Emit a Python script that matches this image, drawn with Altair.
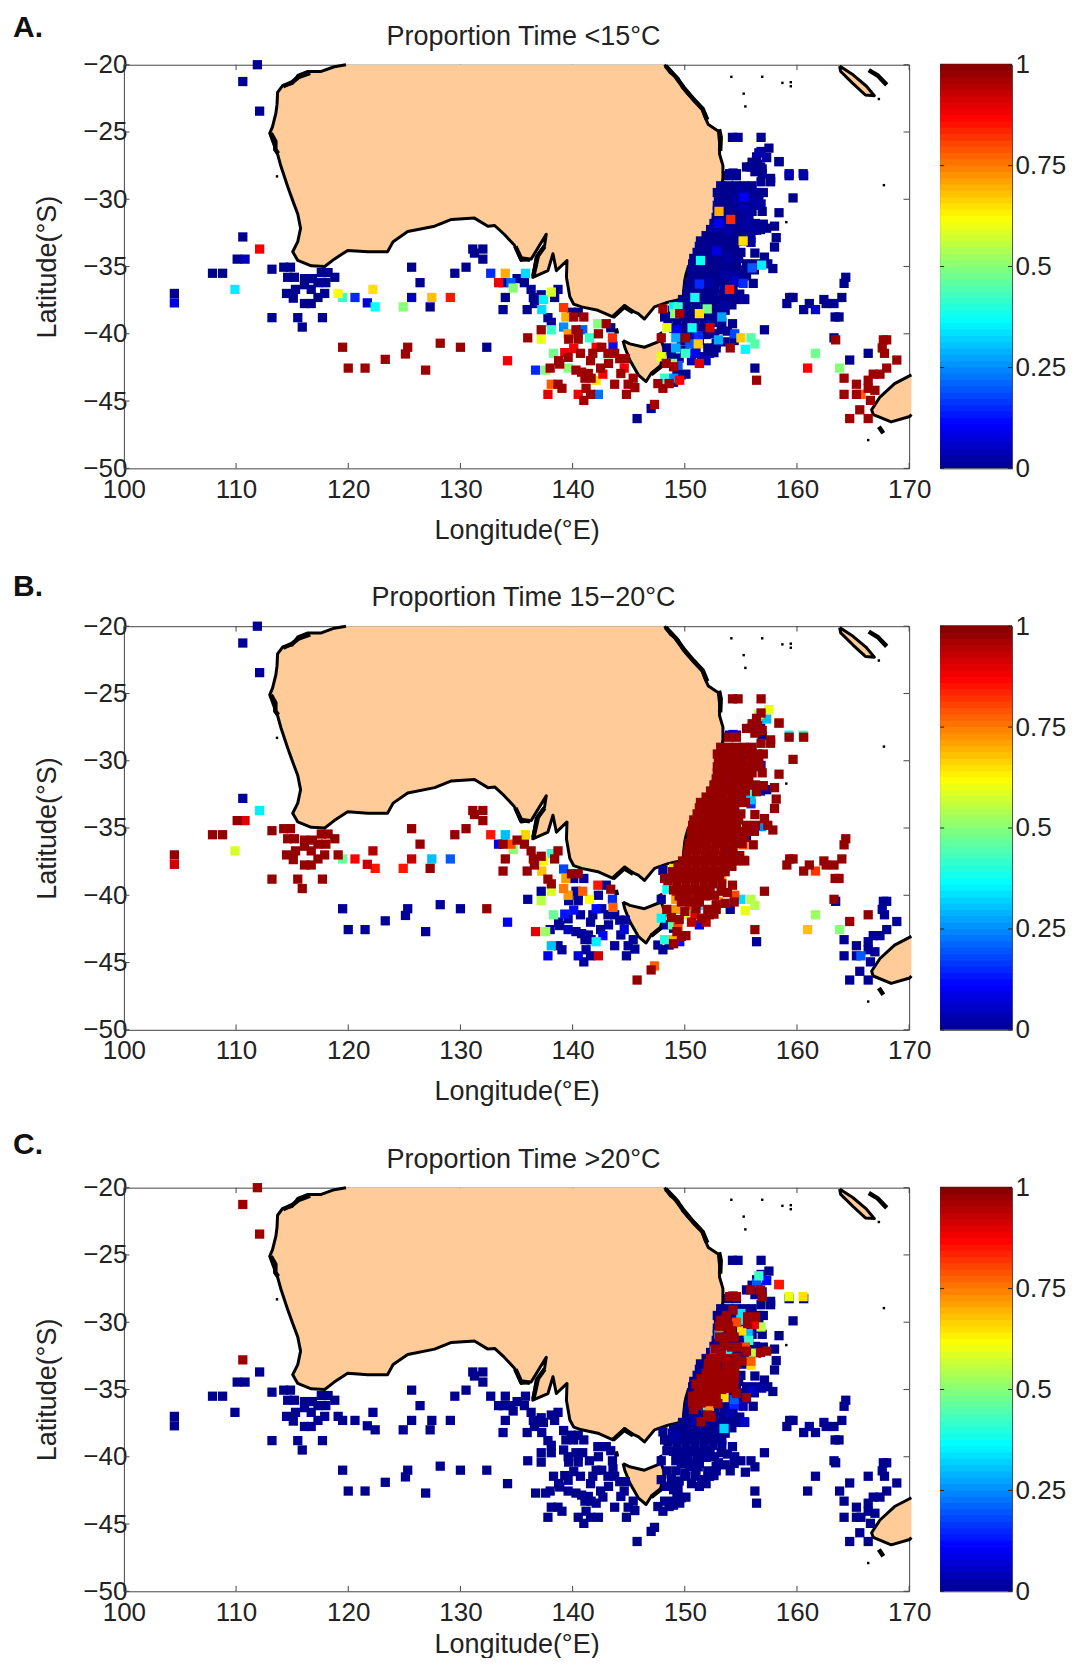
import altair as alt
import pandas as pd

FONT = "Liberation Sans"
LAND = "#FFCC99"
JET_DOMAIN = [0, 0.11, 0.365, 0.62, 0.87, 1]
JET_RANGE = ["#00008F", "#0000FF", "#00FFFF", "#FFFF00", "#FF0000", "#800000"]
XTICKS = [100, 110, 120, 130, 140, 150, 160, 170]
YTICKS = [-20, -25, -30, -35, -40, -45, -50]
CBTICKS = [0, 0.25, 0.5, 0.75, 1]

# ---------- coastlines (lon, lat) ----------
AUSTRALIA = [(148.2,-20),(148.7,-20.6),(149.4,-21),(149.8,-21.7),(150.3,-22.2),(150.9,-22.6),(151.5,-23.2),(151.8,-23.9),
 (152.1,-24.45),(153,-24.95),(153.1,-25.8),(153.1,-26.65),(153.4,-27.5),(153.4,-28.4),(153.3,-29.1),(153.1,-29.85),(152.8,-31),
 (152.5,-31.85),(151.9,-32.7),(151.2,-33.55),(150.8,-34.3),(150.3,-35.05),(150.1,-35.6),(150,-36),(149.9,-36.8),(149.85,-37.4),
 (148.5,-37.65),(147.3,-38),(146.4,-38.9),(145.85,-38.5),(145.3,-38.3),(144.65,-37.9),(144.1,-38.4),(143.6,-38.75),(142.25,-38.25),
 (140.8,-38),(140.1,-37.8),(139.75,-37.25),(139.45,-35.8),(139.5,-34.55),(138.55,-35.3),(138.25,-34.05),(137.8,-35.3),(136.45,-35.8),
 (136.75,-34.3),(137.5,-33.45),(137.65,-32.6),(136.3,-34.45),(135.4,-34.55),(134.8,-33.4),(133.9,-32.6),(133.05,-31.95),(132.45,-32),
 (131.25,-31.4),(129.2,-31.5),(127.7,-32),(125.3,-32.4),(124,-33.15),(123.5,-33.9),(121.75,-33.9),(119.95,-33.8),(118.75,-34.45),
 (117.9,-35),(116.7,-34.95),(115.5,-34.55),(115.05,-33.9),(115.5,-33.15),(115.75,-32.15),(115.5,-31.1),(115.05,-30.1),(114.6,-29.05),
 (114,-27.55),(113.7,-26.65),(113.4,-26),(113,-25.1),(113.25,-24.6),(113.4,-24.1),(113.55,-23.6),(113.65,-22.95),(113.7,-22.05),
 (114.15,-21.55),(115,-21.4),(115.5,-20.8),(116.4,-20.5),(117.6,-20.5),(118.75,-20.15),(119.8,-20)]
TASMANIA = [(144.5,-40.5),(145.1,-40.75),(146.4,-41),(147.9,-40.5),(148.2,-41.2),(147.9,-42.45),(147,-42.95),(146.55,-43.55),
 (145.85,-43.05),(145.1,-41.95),(144.65,-41),(144.5,-40.5)]
NEW_ZEALAND = [(170.2,-43.05),(168.7,-43.7),(167.4,-44.7),(166.65,-45.65),(166.8,-46),(168.4,-46.55),(170.05,-46.15),(170.2,-46)]
NEW_CALEDONIA = [(163.8,-20.1),(165,-20.75),(166.2,-21.6),(166.9,-22.3),(166.1,-22.25),(165,-21.4),(163.9,-20.5),(163.8,-20.1)]
ROUGH_COAST = {
 "qld": [(148.3,-20.1),(149.2,-20.9),(149.9,-21.7),(150.8,-22.6),(151.6,-23.3),(152,-24.1)],
 "shark": [(113.1,-25.1),(113.5,-25.7),(113.5,-26.3),(113.75,-26.6)],
 "fraser": [(153.05,-24.8),(153.2,-25.4),(153.15,-26.4)],
 "pilbara": [(114.2,-21.6),(115,-21.3),(115.6,-20.9),(116.6,-20.6)],
 "nsw": [(153.3,-29.3),(152.9,-30.6),(152.4,-32),(151.5,-33.2),(150.7,-34.6)],
 "eyre": [(134.9,-33.5),(135.4,-34.4),(136.2,-34.5)],
 "yorke": [(137.5,-33.5),(136.9,-34.2),(136.5,-35.7)],
 "otway": [(143.6,-38.75),(144.6,-38),(145.4,-38.4)],
 "king": [(143.85,-39.6),(143.95,-40.0)],
 "flinders": [(147.75,-39.9),(148.1,-40.4)],
 "tas": [(148.2,-41.4),(147.9,-42.4),(147,-43)],
 "vanuatu": [(166.4,-20.4),(167.2,-20.8),(168,-21.5)],
 "stewart": [(167.3,-46.9),(167.7,-47.4)],
}
ISLETS = [(154.15,-20.9),(156.9,-20.9),(158.7,-21.35),(159.45,-21.3),(159.45,-21.6),(155.25,-22.15),(155.4,-23.1),(167.75,-28.95),
 (159.05,-31.7),(166.35,-47.9),(167.3,-22.55),(113.65,-28.3),(115.6,-20.9)]

# ---------- tag positions ----------
# navy in A, dark red in B, navy in C
COOL_WEST = [(104.5,-37),(107.9,-35.5),(108.8,-35.5),(110.1,-34.45),(113.2,-35.2),(114.25,-35.05),(114.85,-35.05),(114.6,-35.8),(115.2,-35.8),
 (116.1,-35.9),(116.8,-35.9),(117.6,-35.45),(118.2,-35.45),(118.8,-35.8),(118,-36.2),(117.3,-36.2),(116.1,-36.35),(115.3,-36.7),(116.7,-36.7),
 (114.5,-37),(117.9,-37),(117.3,-37.3),(115.1,-37.35),(116.1,-37.75),(116.7,-37.75),(113.2,-38.8),(115.5,-38.8),(117.7,-38.8),(115.9,-39.5),
 (125.65,-35.05),(126.4,-36.2),(127.3,-38),(129.5,-35.5),(130.5,-35.05),(131.1,-33.7),(132,-33.7),(131.25,-34),(132,-34.45),
 (133.8,-36.2),(135.05,-35.9),(135.7,-36.2),(136.3,-36.7),(134,-37.3),(133.8,-38.2),(135.95,-38.2),(136.5,-37.3),(137.2,-37.1),(136.6,-37.75),
 (138.7,-36.7),(138.4,-37.3),(137.8,-38.8),(138.1,-39.15),(139.9,-38.4),(140.5,-38.4),(143.4,-39.55)]
COOL_TOP = [(154.25,-25.4),(154.75,-25.4),(156.8,-25.4),(156.8,-26.45),(156.4,-26.85),(158.4,-27.2),(156,-27.25),(155.5,-27.6),(156.5,-27.4),
 (156.9,-27.75),(156.25,-27.95),(159.3,-28.25),(160.6,-28.25),(153.9,-28.25),(154.6,-28.25),(157.65,-28.45),(156.8,-28.7),(157.65,-28.7),
 (159.65,-29.9),(158.4,-31),(158,-32),(158.15,-32.85),(158,-33.55),(156.25,-34),(157.1,-34.3),(157.4,-34.8),(157.85,-35.15),(155.35,-37.45),(156.1,-36.25)]
ROW_29 = [(153.2,-29),(153.9,-29),(154.6,-29),(155.3,-29),(156,-29)]
ROW_29H = [(152.9,-29.5),(153.6,-29.5),(154.3,-29.5),(155,-29.5),(155.8,-29.5),(156.5,-29.5),(157,-29.5)]
ROW_30 = [(153,-30),(153.8,-30),(154.5,-30),(155.2,-30),(156,-30),(156.6,-30)]
ROW_30H = [(152.9,-30.45),(153.6,-30.45),(154.4,-30.45),(155.1,-30.45),(155.9,-30.45),(156.7,-30.45)]
ROW_31 = [(152.9,-30.9),(153.7,-30.9),(154.5,-30.9),(155.2,-30.9),(156,-30.9),(156.9,-30.9),(152.8,-31.35),(153.5,-31.35),(154.3,-31.35),(155,-31.35),(155.7,-31.35)]
ROW_32 = [(152.6,-31.8),(153.3,-31.8),(154,-31.8),(154.8,-31.8),(155.6,-31.8),(156.3,-31.8),(157,-31.85),(152.3,-32.25),(153.1,-32.25),(153.9,-32.25),(154.6,-32.25),(155.4,-32.25),(156.4,-32.3)]
ROW_33 = [(151.9,-32.7),(152.7,-32.7),(153.4,-32.7),(154.2,-32.7),(155,-32.7),(151.4,-33.1),(152.2,-33.1),(153,-33.1),(153.8,-33.1),(154.6,-33.1),(155.4,-33.1),(151.3,-33.5),(152,-33.5),(152.8,-33.5),(153.6,-33.5),(154.4,-33.5)]
ROW_34 = [(151.1,-33.95),(151.8,-33.95),(152.6,-33.95),(153.4,-33.95),(154.2,-33.95),(155,-33.95),(150.8,-34.4),(151.6,-34.4),(152.4,-34.4),(153.2,-34.4),(154,-34.4),(154.8,-34.4)]
ROW_35 = [(150.7,-34.8),(151.5,-34.8),(152.3,-34.8),(153,-34.8),(153.8,-34.8),(154.6,-34.8),(155.5,-34.8),(156.3,-34.8),(150.6,-35.25),(151.4,-35.25),(152.2,-35.25),(153,-35.25),(153.8,-35.25),(154.6,-35.25),(155.4,-35.25),(156.2,-35.25),(150.6,-35.7),(151.4,-35.7),(152.1,-35.7),(152.9,-35.7),(153.7,-35.7),(154.5,-35.7),(155.3,-35.7)]
ROW_36 = [(150.4,-36.15),(151.2,-36.15),(152,-36.15),(152.8,-36.15),(153.6,-36.15),(154.4,-36.15),(155.1,-36.15),(150.3,-36.6),(151.1,-36.6),(151.9,-36.6),(152.7,-36.6),(153.5,-36.6),(154.3,-36.6)]
ROW_37 = [(150.2,-37.05),(151,-37.05),(151.8,-37.05),(152.6,-37.05),(153.4,-37.05),(154.2,-37.05),(154.9,-37.05),(149.8,-37.45),(150.6,-37.45),(151.4,-37.45),(152.2,-37.45),(153,-37.45),(153.8,-37.45),(154.6,-37.45),(149.4,-37.85),(150.2,-37.85),(151,-37.85),(151.8,-37.85),(152.6,-37.85),(153.4,-37.85),(154.2,-37.85)]
ROW_38 = [(148.9,-38.25),(149.7,-38.25),(150.5,-38.25),(151.3,-38.25),(152.1,-38.25),(152.9,-38.25),(153.6,-38.25),(149.1,-38.7),(149.9,-38.7),(150.7,-38.7),(151.5,-38.7),(152.3,-38.7),(153.1,-38.7)]
ROW_39 = [(149.3,-39.15),(150.1,-39.15),(150.9,-39.15),(151.7,-39.15),(152.5,-39.15),(153.3,-39.15),(154.25,-39.25),(149,-39.6),(149.8,-39.6),(150.6,-39.6),(151.4,-39.6),(152.2,-39.6),(153.25,-39.7),(157.1,-39.7)]
ROW_40 = [(149.5,-40.05),(150.3,-40.05),(151.1,-40.05),(151.9,-40.05),(152.65,-40),(149.7,-40.5),(150.5,-40.5),(151.3,-40.5),(148.4,-41.05),(152.05,-41.05),(152.8,-41.05),(152.2,-41.45),(148.8,-41.65),(156.25,-42.55),(149.7,-43.05),(148.2,-38.75),(148.5,-38.9),(147,-45.55),(145.75,-46.3)]
ROW_41 = [(150,-41.2),(151,-41),(152.6,-41.4),(149.5,-41.8),(151.5,-41.7),(152.8,-40.7),(153.6,-40.6),(153.8,-39.8),(149.3,-42.7),(150.1,-43),(149,-43.6),(154.4,-40.5)]
COOL_FAR_EAST = [(159.35,-37.3),(159.65,-37.3),(159.1,-37.75),(160.6,-38.2),(161.1,-37.75),(162.4,-37.45),(162.6,-37.75),(163.3,-37.75),(164,-37.3),(164.35,-35.8),(164.2,-36.25),(163.4,-38.75),(163.75,-38.75),(163.3,-40.3),(164.7,-41.95),(166.35,-41.45)]

# dark red in A, navy in B, navy in C
COLD_SOUTH = [(119.5,-41),(120,-42.55),(121.5,-42.55),(123.3,-41.9),(125.3,-41),(125.1,-41.5),(126.9,-42.7),(128.2,-40.7),(130,-41),(136,-40.3),
 (137.2,-39.7),(140.1,-38.75),(141,-38.75),(143,-39.25),(142.3,-40),(140.3,-39.7),(140.5,-40),(139.65,-40.4),(140.5,-40.4),(140.7,-41.45),(141.8,-41.45),
 (142.6,-41),(143.15,-41.45),(143.75,-41.45),(144.2,-41.85),(144.7,-41.85),(138,-42.55),(138.75,-42),(139.6,-41.75),(138.85,-42.25),(141.6,-42),(143.2,-42.2),
 (142.5,-42.55),(140.3,-42.7),(140.8,-42.85),(141.4,-42.95),(144.3,-42.95),(141.1,-43.3),(141.65,-43.3),(145.4,-43.3),(144.95,-43.75),(145.55,-44),(143.75,-43.75),
 (138.7,-43.75),(139.05,-44.05),(141.2,-44.05),(141.6,-44.5),(141,-44.95),(144.8,-44.5),(148.05,-38.15),(149.55,-38.5),(150.05,-40.3),(147.9,-40.3),(154.05,-41.05),
 (156.4,-43.45),(148.35,-42.2),(149,-42.45),(147.6,-43.7),(148.05,-44.05),(148.6,-43.7),(163.45,-40.45)]
COLD_NZ = [(168,-40.45),(167.7,-40.45),(167.6,-41.05),(167.8,-41.45),(168.9,-41.95),(168,-42.55),(167.4,-43),(166.8,-43),(166.35,-43.45),(164.2,-43.3),(165.3,-43.75),(166.35,-44.05),(166.95,-44.2),(164.2,-44.5),(165.3,-44.5),(166.55,-44.95),(165.6,-45.65),(164.7,-46.3),(166.35,-46.3)]

# navy in A, navy in B, dark red in C
WARM = [(111.9,-20),(110.6,-21.25),(112.1,-23.45),(110.6,-32.8),(155.87,-27.6),(156.76,-27.6),(156.9,-28.1),(154,-28.1),(154.6,-28.1),(154.3,-29.1),(153.7,-29.5),(153.7,-30),(155.6,-29.6),(156.3,-29.6),
 (155.6,-30.1),(154.15,-30.65),(153.1,-31.1),(154.4,-31.1),(153.7,-31.1),(154.15,-31.85),(154.7,-31.85),(155.5,-32.15),(156.75,-32.25),(157.3,-32.15),(153.25,-32.4),(155.1,-32.9),(152.1,-33.05),(152.8,-33.05),(153.7,-33.05),
 (152.1,-33.55),(152.8,-33.55),(153.7,-33.55),(154.45,-33.45),(151.45,-34.2),(152.15,-34.2),(152.9,-34.2),(153.7,-34.2),(154.45,-34.05),(151.3,-35.05),(152.05,-34.9),(152.8,-34.9),(153.5,-34.8),(151.9,-35.3),(152.8,-35.4),(154.6,-35.3),(155.5,-35.6),
 (150.7,-36),(151.45,-36),(152.95,-36.05),(150.8,-36.5),(152.05,-36.9),(151.45,-37.4),(152.35,-37.05),(151.6,-35.6),(153.3,-34.3),(154.05,-33.7)]
WARM_DENSE = [(151,-34.6),(151.7,-34.6),(152.5,-34.6),(153.2,-34.6),(154,-34.6),(151.1,-35.5),(150.7,-35.5),(152.5,-35.7),(153.3,-35),(154,-34.9),(151.9,-33.8),(152.6,-33.8),(153.4,-33.8),
 (152.3,-32.7),(153.1,-32.7),(153.9,-32.7),(154.6,-32.6),(152.7,-32),(153.5,-31.7),(153.1,-30.3),(153.9,-30.3),(153.2,-29.85),(151.2,-34.95),(152.4,-35.1),(151.2,-36.2),(150.9,-35.9),(152.2,-35.9),(154.6,-33.1),(154.4,-34.6)]

# lon, lat, proportion < 15, proportion 15-20, proportion > 20
MIXED_WEST = [(112.1,-33.7,.88,.35,0),(110.8,-34.45,.05,.9,0),(104.5,-37.7,.08,.92,0),(109.9,-36.7,.35,.58,0),(119.1,-37,.62,.97,0),(119.5,-37.3,.42,.47,0),
 (120.6,-37.3,.15,.87,0),(121.7,-37.7,.07,.93,0),(122.4,-38,.37,.85,0),(122.2,-36.7,.65,.95,0),(124.9,-38,.5,.85,0),(125.65,-37.3,.05,.93,0),(127.45,-37.3,.68,.3,0),(129.1,-37.3,.85,.2,0),
 (132.35,-41,0,.98,0),(132.7,-35.5,.15,.85,0),(134,-35.5,.7,.3,0),(135.8,-35.5,.33,.66,0),(133.4,-36.2,.88,.1,0),(134.5,-36.2,.2,.8,0),(134.7,-36.6,.5,.5,0),(137.4,-37.45,.35,.63,0),(137.25,-38.2,.33,.68,0),(138.1,-36.9,.58,.42,0)]
MIXED_SOUTH = [(134.2,-42,.88,.1,0),(139.2,-38.05,.82,.18,0),(139.4,-38.75,.7,.72,0),(138.1,-39.7,.42,.58,0),(139.2,-39.5,.25,.75,0),(140.9,-39.7,.2,.78,0),(139.6,-40,.72,.72,0),
 (141.5,-40.3,.42,.62,0),(142.25,-39.25,.5,.85,0),(143.55,-40.3,.83,.15,0),(137.2,-40.4,.6,.55,0),(136.7,-42.7,.15,.9,0),(137.6,-42.7,.5,.52,0),(138.3,-41.45,.48,.47,0),(139.3,-41.4,.88,.13,0),
 (140.1,-41.1,.88,.12,0),(142.1,-41,.88,.12,0),(143.6,-40.9,.12,.78,0),(139.6,-42.55,.5,.05,0),(144.6,-42.55,.88,.08,0),(142.7,-43,.88,.1,0),(142.1,-43.45,.65,.35,0),(138.1,-43.75,.78,.3,0),
 (137.8,-44.5,.9,.1,0),(140.5,-44.5,.88,.08,0),(142.3,-44.5,.22,.92,0),(147.3,-45.25,.96,.78,0)]
MIXED_EAST = [(158.4,-27.2,0,.82,.85),(156.6,-26.55,.03,.55,.42),(159.3,-28.1,.03,.38,.6),(160.55,-28.1,.02,.42,.65),(156.4,-27.1,0,.15,.2),(154.3,-28.05,.01,.1,.05),
 (155.3,-29.85,.1,.3,.35),(153.05,-30.9,.7,.2,.3),(154.1,-31.5,.83,.15,.1),(153.05,-31.8,.1,.88,.02),(155.2,-33.1,.65,.35,.02),(152.85,-33.85,.08,.93,.03),(151.4,-34.55,.38,.6,.02),(156,-35.1,.2,.72,.05),(156.85,-34.9,.35,.25,.02),
 (154.4,-36.1,.05,.93,.15),(155.2,-36.25,.15,.8,.03),(151.3,-36.3,.15,.83,.05),(154,-36.7,.85,.13,.03),(150.9,-37.3,.38,.62,.02),(152,-38.15,.48,.5,0),(153.3,-38.75,.27,.7,0),(151.3,-38.5,.65,.33,0),(149.1,-38.5,.5,.4,.02),
 (149.4,-38,.42,.6,0),(149,-38,.35,.65,0),(152.25,-39.55,.92,.06,0),(150.65,-39.55,.38,.6,0),(148.4,-39.55,.6,.38,0),(149.25,-39.7,.1,.88,0),(154.45,-40,.18,.8,0),(155,-40.3,.67,.33,0),(155.9,-40.3,.45,.55,0),(156.25,-40.75,.45,.55,0),
 (155.4,-41.15,.36,.6,0),(153,-40.45,.28,.72,0),(151.2,-40.15,.15,.85,0),(149.2,-40.3,.28,.72,0),(151.2,-40.75,.67,.33,0),(150.45,-40.75,.2,.8,0),(149.2,-41.05,.28,.72,0),(150.05,-41.45,.42,.58,0),(150.9,-41.45,.1,.9,0),(150.6,-42,.05,.95,0),
 (151.3,-42.2,.9,.1,0),(151.9,-42,.05,.95,0),(149.4,-42.35,.2,.8,0),(148.9,-42.2,.5,.45,0),(148.2,-43.3,.42,.4,0),(149,-43.3,.25,.7,0),(149.55,-43.45,.88,.12,0),(161.65,-38.2,.06,.82,0),(161.65,-41.45,.48,.52,0),(160.95,-42.55,.87,.68,0),(163.8,-42.55,.5,.5,0),(165.7,-44.5,.78,.2,0),(147.9,-41.7,.6,.35,0),
 (157.5,-26.2,0,.6,0),(153.5,-35.6,.02,.05,.65),(154.4,-35.75,.02,.1,.2),(152.2,-36.25,.02,.7,.72),(151.9,-36.2,.02,.4,.38),(153.5,-37.9,.02,.05,.32),(155.3,-37.4,.02,.9,.06),(152.65,-32.1,.02,.35,.33),(153.85,-32.4,.02,.3,.36),(155.65,-30.85,.02,.1,.3),(155.7,-31.35,.02,.45,.42),(155.07,-30.65,.02,.15,.65),(155.4,-31.85,.02,.2,.8),(155.9,-32.9,.02,.3,.78),(156.15,-32.3,.02,.4,.55),(155.9,-33.2,.02,.15,.65),(156.2,-30.15,.02,.1,.88),(153.8,-34.35,.02,.9,.88),(156.8,-30.35,.02,.12,.55),(154.6,-30,.02,.1,.8),(155,-29.35,.02,.2,.34),(157.3,-26.9,.02,.3,.12)]

COOL_GROUPS = [COOL_WEST, COOL_TOP, ROW_29, ROW_29H, ROW_30, ROW_30H, ROW_31, ROW_32, ROW_33, ROW_34, ROW_35, ROW_36, ROW_37, ROW_38, ROW_39, ROW_40, ROW_41, COOL_FAR_EAST]
COLD_GROUPS = [COLD_SOUTH, COLD_NZ]
WARM_GROUPS = [WARM, WARM_DENSE]
MIXED_GROUPS = [MIXED_WEST, MIXED_SOUTH, MIXED_EAST]

rows = []
for g in COOL_GROUPS:
    rows += [(p[0], p[1], 0.0, 0.98, 0.0) for p in g]
for g in COLD_GROUPS:
    rows += [(p[0], p[1], 0.97, 0.01, 0.0) for p in g]
for g in WARM_GROUPS:
    rows += [(p[0], p[1], 0.0, 0.01, 0.97) for p in g]
for g in MIXED_GROUPS:
    rows += list(g)
tags = pd.DataFrame(rows, columns=["lon", "lat", "a", "b", "c"])

def path_frame(named):
    out = []
    for name, pts in named.items():
        for i, (x, y) in enumerate(pts):
            out.append({"lon": x, "lat": y, "shape": name, "i": i})
    return pd.DataFrame(out)

land = path_frame({"aus": AUSTRALIA, "tas": TASMANIA, "nz": NEW_ZEALAND, "nc": NEW_CALEDONIA})
rough = path_frame(ROUGH_COAST)
islets = pd.DataFrame(ISLETS, columns=["lon", "lat"])
xt = pd.DataFrame({"v": XTICKS})
yt = pd.DataFrame({"v": YTICKS})

xs = alt.Scale(domain=[100, 170], nice=False, zero=False)
ys = alt.Scale(domain=[-50, -20], nice=False, zero=False)
color_scale = alt.Scale(domain=JET_DOMAIN, range=JET_RANGE, interpolate="rgb", clamp=True)

def x_axis(title_padding):
    return alt.Axis(values=XTICKS, title="Longitude(°E)", titleFont=FONT, titleFontSize=27, titleFontWeight="normal", titleColor="#222",
                    labelFont=FONT, labelFontSize=26, labelColor="#222", labelPadding=8, titlePadding=title_padding, tickSize=0, domain=False, grid=False, labelFlush=False, labelOverlap=False)
YAX = alt.Axis(values=YTICKS, title="Latitude(°S)", titleFont=FONT, titleFontSize=27, titleFontWeight="normal", titleColor="#222",
               labelFont=FONT, labelFontSize=26, labelColor="#222", labelPadding=-3, titlePadding=21, tickSize=0, domain=False, grid=False,
               labelExpr="'\u2212' + abs(datum.value)", labelFlush=False, labelOverlap=False)
Y = lambda f: alt.Y(f, scale=ys, axis=YAX)

def panel(col, title, letter, letter_y, title_padding):
    XAX = x_axis(title_padding)
    X = lambda f: alt.X(f, scale=xs, axis=XAX)
    tick_color = "#444"
    tb = alt.Chart(xt).mark_rule(color=tick_color, strokeWidth=1).encode(x=X("v:Q"), y=alt.Y(datum=-50, scale=ys, axis=YAX), y2=alt.Y2(datum=-49.6))
    tt = alt.Chart(xt).mark_rule(color=tick_color, strokeWidth=1).encode(x=X("v:Q"), y=alt.Y(datum=-20, scale=ys, axis=YAX), y2=alt.Y2(datum=-20.4))
    tl = alt.Chart(yt).mark_rule(color=tick_color, strokeWidth=1).encode(y=Y("v:Q"), x=alt.X(datum=100, scale=xs, axis=XAX), x2=alt.X2(datum=100.5))
    tr = alt.Chart(yt).mark_rule(color=tick_color, strokeWidth=1).encode(y=Y("v:Q"), x=alt.X(datum=170, scale=xs, axis=XAX), x2=alt.X2(datum=169.5))
    fill = alt.Chart(land).mark_line(fill=LAND, stroke=LAND, strokeWidth=0.5, clip=False).encode(
        x=X("lon:Q"), y=Y("lat:Q"), detail="shape:N", order="i:Q")
    coast = alt.Chart(land).mark_line(color="black", strokeWidth=3, clip=False, strokeJoin="round").encode(
        x=X("lon:Q"), y=Y("lat:Q"), detail="shape:N", order="i:Q")
    blobs = alt.Chart(rough).mark_line(color="black", strokeWidth=4.5, clip=False).encode(
        x=X("lon:Q"), y=Y("lat:Q"), detail="shape:N", order="i:Q")
    dots = alt.Chart(islets).mark_square(color="black", size=6, opacity=1).encode(x=X("lon:Q"), y=Y("lat:Q"))
    pts = alt.Chart(tags.sort_values(col, kind="stable")).mark_square(size=86, opacity=1).encode(
        x=X("lon:Q"), y=Y("lat:Q"),
        color=alt.Color(f"{col}:Q", scale=color_scale, legend=None))
    tag = alt.Chart(pd.DataFrame({"t": [letter]})).mark_text(font=FONT, fontSize=30, fontWeight="bold", align="left", baseline="alphabetic", color="#111").encode(
        x=alt.value(-111), y=alt.value(letter_y), text="t:N")
    head = alt.Chart(pd.DataFrame({"t": [title]})).mark_text(font=FONT, fontSize=27, align="center", baseline="alphabetic", color="#222").encode(
        x=alt.value(400), y=alt.value(-20), text="t:N")
    return alt.layer(tb, tt, tl, tr, fill, coast, blobs, dots, pts, tag, head).properties(width=786, height=404)

CBAX = alt.Axis(values=CBTICKS, title=None, orient="right", labelFont=FONT, labelFontSize=26, labelColor="#222", labelPadding=3,
                tickSize=0, domain=False, grid=False, labelExpr="'' + datum.value", labelFlush=False, labelOverlap=False)
CBS = alt.Scale(domain=[0, 1], nice=False, zero=False)

def colorbar():
    lv = pd.DataFrame({"k": list(range(64))})
    bar = alt.Chart(lv).transform_calculate(lo="datum.k/64", hi="(datum.k+1.15)/64", mid="(datum.k+0.5)/64").mark_rect().encode(
        x=alt.value(0), x2=alt.value(72),
        y=alt.Y("lo:Q", scale=CBS, axis=CBAX),
        y2="hi:Q",
        color=alt.Color("mid:Q", scale=color_scale, legend=None))
    cb = pd.DataFrame({"v": CBTICKS})
    tl = alt.Chart(cb).mark_rule(color="#222").encode(y=alt.Y("v:Q", scale=CBS, axis=CBAX), x=alt.value(0), x2=alt.value(4))
    tr = alt.Chart(cb).mark_rule(color="#222").encode(y=alt.Y("v:Q", scale=CBS, axis=CBAX), x=alt.value(68), x2=alt.value(72))
    return alt.layer(bar, tl, tr).properties(width=72, height=404)

chart = alt.concat(
    panel("a", "Proportion Time <15°C", "A.", -28, 15), colorbar(),
    panel("b", "Proportion Time 15\u221220°C", "B.", -30, 15), colorbar(),
    panel("c", "Proportion Time >20°C", "C.", -34, 6), colorbar(),
    columns=2, spacing=alt.RowColnumber(row=158, column=31), bounds="flush"
).properties(padding={"left": 4, "top": 3, "right": 0, "bottom": -1}).configure_view(stroke="#444")

chart.save("out.html", embed_options={"renderer": "svg", "actions": False})
